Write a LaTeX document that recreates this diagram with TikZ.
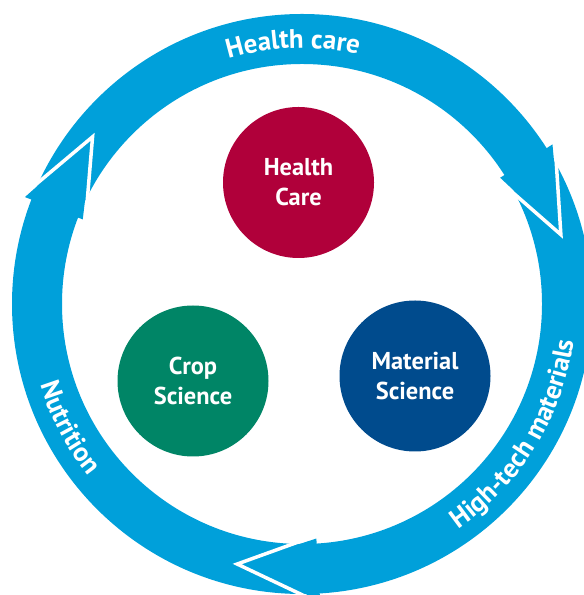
\documentclass[tikz,border=0pt]{standalone}
\usepackage{fontspec}
\setmainfont{PT Sans}
\usetikzlibrary{decorations.text}

\definecolor{ringblue}{RGB}{0,160,218}
\definecolor{healthred}{RGB}{176,0,58}
\definecolor{cropgreen}{RGB}{0,133,102}
\definecolor{materialblue}{RGB}{0,75,141}

\tikzset{
  hub/.style={circle, minimum size=151bp, inner sep=0pt, text=white, align=center,
    font=\bfseries\fontsize{24.5}{30}\selectfont},
  gapline/.style={draw=white, line width=3.5bp, line join=miter, miter limit=20},
  ringlabel/.style={decorate, decoration={text along path, text align=center,
    text color=white, text={|\bfseries\fontsize{27}{30}\selectfont|#1}}}
}

\begin{document}
\begin{tikzpicture}[x=1bp, y=1bp]

\useasboundingbox (0,0) rectangle (584,595);
\clip (0,0) rectangle (584,595);
\coordinate (c) at (302,291);

% draw ring
\begin{scope}[shift={(c)}]
\fill[ringblue, even odd rule] (0,0) circle (290) (0,0) circle (240);

% draw arrow heads
\foreach \t in {15,-104,141.4} {
  \fill[ringblue] ({\t+17.5}:297) -- (\t:268) -- ({\t+17.5}:235) -- cycle;
  \draw[gapline] ({\t+17.5}:300) -- (\t:268) -- ({\t+17.5}:232);
}

% ring labels
\path[ringlabel={Health care}] (130:256) arc[start angle=130, end angle=54, radius=256];
\path[ringlabel={High-tech materials}] (-62:274) arc[start angle=-62, end angle=-1, radius=274];
\path[ringlabel={Nutrition}] (186:274) arc[start angle=186, end angle=230, radius=274];
\end{scope}

% the three fields
\node[hub, fill=healthred] (health) at (298.5,412.5) {Health\\Care};
\node[hub, fill=cropgreen] (crop) at (193,214) {Crop\\Science};
\node[hub, fill=materialblue] (material) at (415,219) {Material\\Science};

\end{tikzpicture}
\end{document}
